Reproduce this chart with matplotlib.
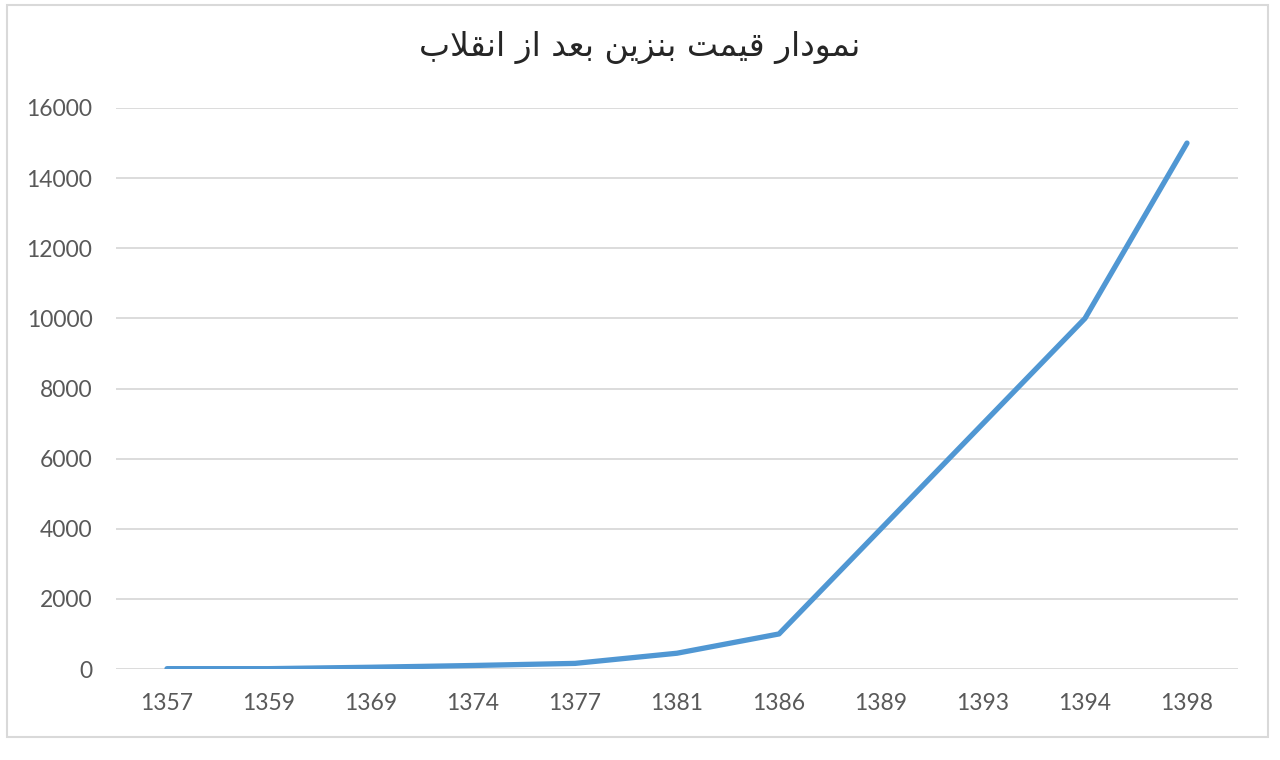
import matplotlib
matplotlib.use('Agg')
import matplotlib.pyplot as plt
from matplotlib.patches import Rectangle

# data
years = ['1357', '1359', '1369', '1374', '1377', '1381', '1386', '1389', '1393', '1394', '1398']
price = [10, 10, 50, 100, 160, 450, 1000, 4000, 7000, 10000, 15000]
title = 'نمودار قیمت بنزین بعد از انقلاب'

# matplotlib has no arabic shaping, so map letters to presentation forms
# (isolated, final, initial, medial); None = letter does not join to the left
FORMS = {
    'ن': ('\uFEE5', '\uFEE6', '\uFEE7', '\uFEE8'),
    'م': ('\uFEE1', '\uFEE2', '\uFEE3', '\uFEE4'),
    'ق': ('\uFED5', '\uFED6', '\uFED7', '\uFED8'),
    'ی': ('\uFBFC', '\uFBFD', '\uFBFE', '\uFBFF'),
    'ت': ('\uFE95', '\uFE96', '\uFE97', '\uFE98'),
    'ب': ('\uFE8F', '\uFE90', '\uFE91', '\uFE92'),
    'ع': ('\uFEC9', '\uFECA', '\uFECB', '\uFECC'),
    'ل': ('\uFEDD', '\uFEDE', '\uFEDF', '\uFEE0'),
    'و': ('\uFEED', '\uFEEE', None, None),
    'د': ('\uFEA9', '\uFEAA', None, None),
    'ا': ('\uFE8D', '\uFE8E', None, None),
    'ر': ('\uFEAD', '\uFEAE', None, None),
    'ز': ('\uFEAF', '\uFEB0', None, None),
    'لا': ('\uFEFB', '\uFEFC', None, None),
}


def shape(text):
    # merge lam-alef first
    units = []
    i = 0
    while i < len(text):
        if text[i] == 'ل' and i + 1 < len(text) and text[i + 1] == 'ا':
            units.append('لا')
            i += 2
        else:
            units.append(text[i])
            i += 1
    out = []
    for k, u in enumerate(units):
        if u not in FORMS:
            out.append(u)
            continue
        prev = units[k - 1] if k > 0 else None
        nxt = units[k + 1] if k + 1 < len(units) else None
        join_prev = prev in FORMS and FORMS[prev][2] is not None
        join_next = FORMS[u][2] is not None and nxt in FORMS
        f = FORMS[u]
        if join_prev and join_next:
            out.append(f[3])
        elif join_prev:
            out.append(f[1])
        elif join_next:
            out.append(f[2])
        else:
            out.append(f[0])
    return ''.join(out)[::-1]


fig = plt.figure(figsize=(12.8, 7.6), dpi=100)
fig.patch.set_facecolor('white')
fig.patches.append(Rectangle((7 / 1280, 1 - 737 / 760), 1261 / 1280, 732 / 760,
                             transform=fig.transFigure, fill=False,
                             edgecolor='#d9d9d9', linewidth=1.5))

ax = fig.add_axes([116 / 1280, 1 - 669 / 760, 1122 / 1280, 561 / 760])
x = list(range(len(years)))
ax.plot(x, price, color='#5097d3', linewidth=3.8, solid_capstyle='round',
        solid_joinstyle='round', zorder=3)

ax.set_xlim(-0.5, len(years) - 0.5)
ax.set_ylim(0, 16000)
ax.set_yticks(range(0, 16001, 2000))
ax.set_xticks(x)
ax.set_xticklabels(years)
ax.grid(axis='y', color='#d9d9d9', linewidth=1.3)
ax.set_axisbelow(True)
for s in ax.spines.values():
    s.set_visible(False)
ax.tick_params(length=0, labelcolor='#595959', labelsize=16.5)
ax.tick_params(axis='y', pad=17)
ax.tick_params(axis='x', pad=17)
for lab in ax.get_xticklabels() + ax.get_yticklabels():
    lab.set_family('Lato')

fig.text(0.5, 1 - 47 / 760, shape(title), ha='center', va='center',
         fontsize=23.8, color='#262626', family=['DejaVu Sans'])

fig.savefig('out.png', dpi=100, facecolor='white')
